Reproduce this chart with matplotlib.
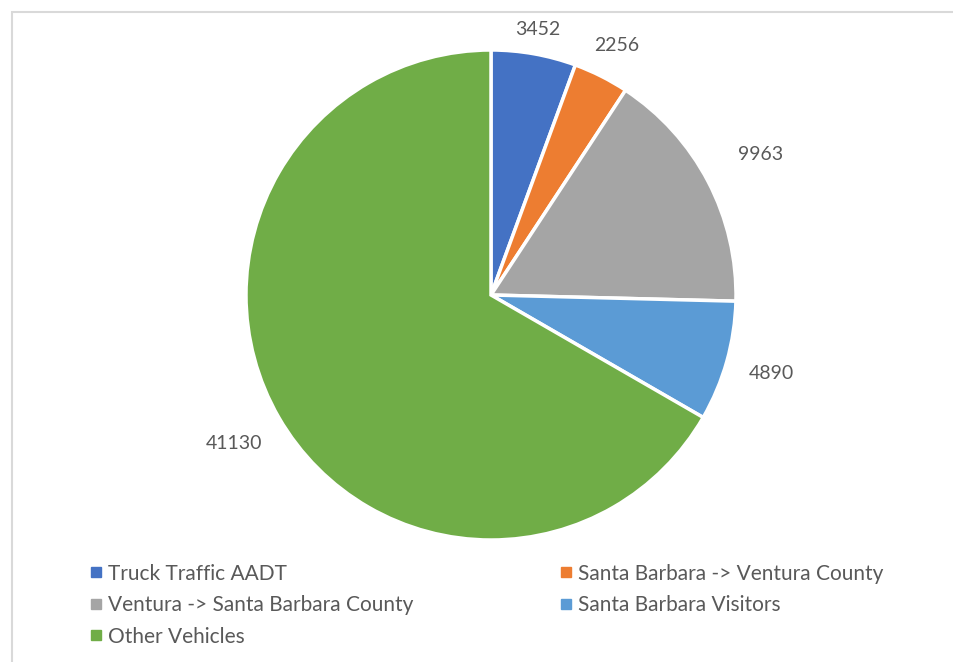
import numpy as np
import matplotlib.pyplot as plt
from matplotlib.lines import Line2D
from matplotlib.patches import Rectangle

categories = ["Truck Traffic AADT", "Santa Barbara -> Ventura County",
              "Ventura -> Santa Barbara County", "Santa Barbara Visitors",
              "Other Vehicles"]
values = [3452, 2256, 9963, 4890, 41130]
colors = ["#4472C4", "#ED7D31", "#A5A5A5", "#5B9BD5", "#70AD47"]

plt.rcParams['font.family'] = ['Lato', 'DejaVu Sans']
text_color = "#595959"

fig = plt.figure(figsize=(9.54, 6.62), dpi=100)
fig.patches.append(Rectangle((12 / 954, -0.05), 1.0, (662 - 12) / 662 + 0.05,
                             transform=fig.transFigure, fill=False,
                             edgecolor="#D9D9D9", linewidth=1.5))

ax = fig.add_axes([0, 0, 1, 1])
center = np.array([491, 367])
wedges, texts = ax.pie(values, labels=[str(v) for v in values], colors=colors,
                       startangle=90, counterclock=False,
                       center=tuple(center), radius=245, labeldistance=1.0,
                       wedgeprops=dict(edgecolor="white", linewidth=2.5),
                       textprops=dict(fontsize=14, color=text_color))
# label distance per slice, as placed in the original
label_dist = [1.10, 1.14, 1.24, 1.19, 1.21]
for t, d in zip(texts, label_dist):
    pos = np.array(t.get_position())
    t.set_position(tuple(center + (pos - center) * d))
    t.set_ha("center")
    t.set_va("center")
ax.set_xlim(0, 954)
ax.set_ylim(0, 662)
ax.set_aspect("equal")
ax.axis("off")

# legend goes row-wise in the reference, matplotlib fills columns first
order = [0, 2, 4, 1, 3]
handles = [Line2D([], [], marker="s", linestyle="none", markersize=7,
                  color=colors[i]) for i in order]
fig.legend(handles, [categories[i] for i in order], ncol=2,
           loc="upper left", bbox_to_anchor=(71 / 954, 1 - 545 / 662),
           frameon=False, fontsize=15, labelcolor=text_color,
           handlelength=0.6, handletextpad=0.3, columnspacing=7.0,
           labelspacing=0.55)

fig.savefig("out.png", dpi=100)
